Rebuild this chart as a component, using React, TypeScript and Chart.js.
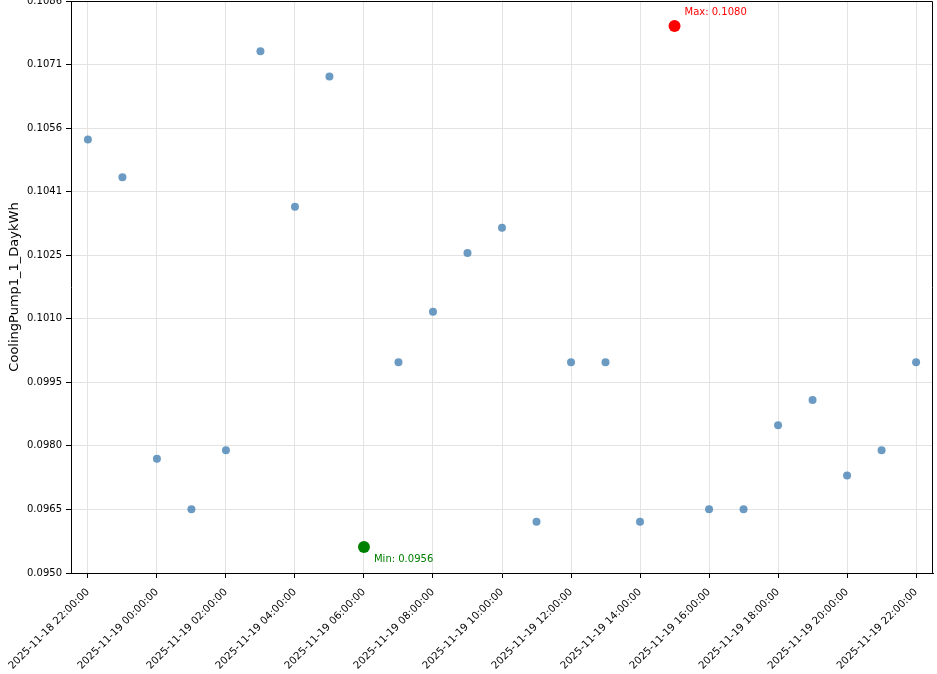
import React, { useEffect, useRef } from "react";
import { Chart, registerables } from "chart.js";

Chart.register(...registerables);

const timestamps = [
  "2025-11-18 22:00:00", "2025-11-18 23:00:00", "2025-11-19 00:00:00", "2025-11-19 01:00:00",
  "2025-11-19 02:00:00", "2025-11-19 03:00:00", "2025-11-19 04:00:00", "2025-11-19 05:00:00",
  "2025-11-19 06:00:00", "2025-11-19 07:00:00", "2025-11-19 08:00:00", "2025-11-19 09:00:00",
  "2025-11-19 10:00:00", "2025-11-19 11:00:00", "2025-11-19 12:00:00", "2025-11-19 13:00:00",
  "2025-11-19 14:00:00", "2025-11-19 15:00:00", "2025-11-19 16:00:00", "2025-11-19 17:00:00",
  "2025-11-19 18:00:00", "2025-11-19 19:00:00", "2025-11-19 20:00:00", "2025-11-19 21:00:00",
  "2025-11-19 22:00:00",
];

const values = [
  0.1053, 0.1044, 0.0977, 0.0965, 0.0979, 0.1074, 0.1037, 0.1068,
  0.0956, 0.1000, 0.1012, 0.1026, 0.1032, 0.0962, 0.1000, 0.1000,
  0.0962, 0.1080, 0.0965, 0.0965, 0.0985, 0.0991, 0.0973, 0.0979,
  0.1000,
];

const yTickLabels = ["0.0950", "0.0965", "0.0980", "0.0995", "0.1010", "0.1025", "0.1041", "0.1056", "0.1071", "0.1086"];
const yMin = 0.09498;
const yMax = 0.108597;
const xTickIndices = [0, 2, 4, 6, 8, 10, 12, 14, 16, 18, 20, 22, 24];
const xPad = 0.49;
const yAxisTitle = "CoolingPump1_1_DaykWh";

const FONT = '"DejaVu Sans", sans-serif';

export default function App() {
  const ref = useRef<HTMLCanvasElement | null>(null);

  useEffect(() => {
    if (!ref.current) return;
    let maxIdx = 0;
    let minIdx = 0;
    values.forEach((v, i) => {
      if (v > values[maxIdx]) maxIdx = i;
      if (v < values[minIdx]) minIdx = i;
    });

    const framePlugin = {
      id: "frameAndNotes",
      afterDatasetsDraw(chart: any) {
        const { ctx, scales } = chart;
        ctx.save();
        ctx.font = `10px ${FONT}`;
        ctx.textBaseline = "middle";
        ctx.textAlign = "left";
        const mx = scales.x.getPixelForValue(maxIdx);
        const my = scales.y.getPixelForValue(values[maxIdx]);
        ctx.fillStyle = "red";
        ctx.fillText(`Max: ${values[maxIdx].toFixed(4)}`, mx + 10, my - 14);
        const nx = scales.x.getPixelForValue(minIdx);
        const ny = scales.y.getPixelForValue(values[minIdx]);
        ctx.fillStyle = "green";
        ctx.fillText(`Min: ${values[minIdx].toFixed(4)}`, nx + 10, ny + 12);
        ctx.restore();
      },
      afterDraw(chart: any) {
        const { ctx, chartArea: a } = chart;
        ctx.save();
        ctx.strokeStyle = "#000";
        ctx.lineWidth = 1;
        ctx.beginPath();
        const t = Math.round(a.top) + 0.5;
        const r = Math.round(a.right) - 0.5;
        ctx.moveTo(a.left, t);
        ctx.lineTo(r, t);
        ctx.lineTo(r, a.bottom);
        ctx.stroke();
        ctx.restore();
      },
    };

    const chart = new Chart(ref.current, {
      type: "scatter",
      data: {
        datasets: [
          {
            label: "max",
            data: [{ x: maxIdx, y: values[maxIdx] }],
            backgroundColor: "red",
            borderColor: "red",
            borderWidth: 0,
            pointRadius: 6,
            order: 0,
          },
          {
            label: "min",
            data: [{ x: minIdx, y: values[minIdx] }],
            backgroundColor: "green",
            borderColor: "green",
            borderWidth: 0,
            pointRadius: 6,
            order: 0,
          },
          {
            label: yAxisTitle,
            data: values.map((v, i) => ({ x: i, y: v })),
            backgroundColor: "rgba(70,130,180,0.8)",
            borderColor: "rgba(70,130,180,0.8)",
            borderWidth: 0,
            pointRadius: 4,
            order: 1,
          },
        ],
      },
      options: {
        animation: false,
        responsive: false,
        devicePixelRatio: 1,
        layout: { padding: { top: 1, right: 4, left: 0, bottom: 0 }, autoPadding: false },
        plugins: { legend: { display: false }, tooltip: { enabled: false } },
        scales: {
          x: {
            type: "linear",
            min: -xPad,
            max: timestamps.length - 1 + xPad,
            afterBuildTicks: (scale: any) => {
              scale.ticks = xTickIndices.map((v) => ({ value: v }));
            },
            afterFit: (scale: any) => {
              scale.height = 101;
              scale.paddingLeft = 0;
              scale.paddingRight = 0;
            },
            ticks: {
              autoSkip: false,
              maxRotation: 45,
              minRotation: 45,
              padding: 8,
              color: "#000",
              font: { family: FONT, size: 10.3 },
              callback: (v: any) => timestamps[Math.round(Number(v))] ?? "",
            },
            grid: { color: "#e3e3e3", lineWidth: 1, tickColor: "#000", tickLength: 5, drawTicks: true },
            border: { display: true, color: "#000", width: 1 },
          },
          y: {
            type: "linear",
            min: yMin,
            max: yMax,
            afterBuildTicks: (scale: any) => {
              scale.ticks = yTickLabels.map((_, i) => ({ value: yMin + ((yMax - yMin) * i) / (yTickLabels.length - 1) }));
            },
            afterFit: (scale: any) => {
              scale.width = 71;
              scale.paddingTop = 0;
              scale.paddingBottom = 0;
            },
            ticks: {
              padding: 4,
              color: "#000",
              font: { family: FONT, size: 10 },
              callback: (_v: any, i: number) => yTickLabels[i],
            },
            title: {
              display: true,
              text: yAxisTitle,
              color: "#000",
              font: { family: FONT, size: 13 },
              padding: { top: 7, bottom: 0 },
            },
            grid: { color: "#e3e3e3", lineWidth: 1, tickColor: "#000", tickLength: 5, drawTicks: true },
            border: { display: true, color: "#000", width: 1 },
          },
        },
      },
      plugins: [framePlugin],
    } as any);
    return () => chart.destroy();
  }, []);

  return (
    <div style={{ position: "absolute", left: 0, top: 0, width: 937, height: 674, background: "#fff" }}>
      <canvas ref={ref} width={937} height={674} style={{ width: 937, height: 674, display: "block" }} />
    </div>
  );
}
